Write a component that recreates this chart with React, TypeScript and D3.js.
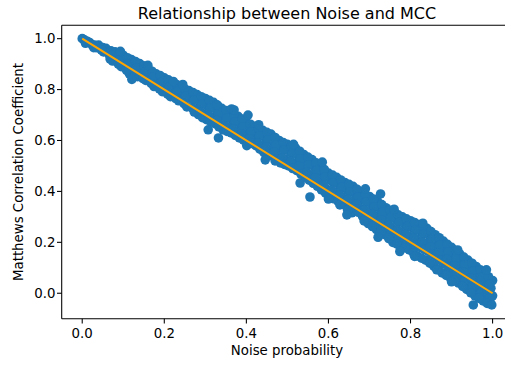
import * as d3 from "d3";
import React from "react";

// chart values
const xTicks = [0.0, 0.2, 0.4, 0.6, 0.8, 1.0];
const yTicks = [0.0, 0.2, 0.4, 0.6, 0.8, 1.0];
const xDomain = [-0.05, 1.05];
const yDomain = [-0.1, 1.0525];

// [noise probability, MCC] - main band of trials
const bandPoints: [number, number][] = [
  [0, 1.0], [0.004, 0.997],
  [0.018, 0.985], [0.024, 0.976], [0.012, 0.99],
  [0.04, 0.975], [0.046, 0.958], [0.034, 0.965],
  [0.058, 0.962], [0.066, 0.936], [0.053, 0.95],
  [0.08, 0.948], [0.086, 0.928], [0.074, 0.912],
  [0.1, 0.935], [0.106, 0.907], [0.095, 0.89],
  [0.12, 0.918], [0.126, 0.888], [0.115, 0.862],
  [0.14, 0.902], [0.146, 0.875], [0.135, 0.851],
  [0.16, 0.884], [0.166, 0.86], [0.155, 0.836],
  [0.18, 0.862], [0.186, 0.836], [0.175, 0.812],
  [0.2, 0.846], [0.206, 0.816], [0.195, 0.792],
  [0.22, 0.83], [0.226, 0.8], [0.215, 0.772],
  [0.24, 0.81], [0.246, 0.782], [0.235, 0.756],
  [0.26, 0.796], [0.266, 0.765], [0.255, 0.732],
  [0.28, 0.78], [0.286, 0.75], [0.275, 0.722], [0.283, 0.702],
  [0.3, 0.765], [0.306, 0.735], [0.295, 0.705], [0.303, 0.682],
  [0.32, 0.75], [0.326, 0.72], [0.315, 0.69], [0.323, 0.666],
  [0.34, 0.726], [0.346, 0.695], [0.335, 0.665], [0.343, 0.642],
  [0.36, 0.71], [0.366, 0.68], [0.355, 0.652], [0.363, 0.63],
  [0.38, 0.695], [0.386, 0.665], [0.375, 0.636], [0.383, 0.61],
  [0.4, 0.672], [0.406, 0.642], [0.395, 0.615], [0.403, 0.595],
  [0.42, 0.655], [0.426, 0.625], [0.415, 0.6], [0.423, 0.58],
  [0.44, 0.64], [0.446, 0.61], [0.435, 0.58], [0.443, 0.552],
  [0.46, 0.625], [0.466, 0.595], [0.455, 0.566], [0.463, 0.54],
  [0.48, 0.6], [0.486, 0.57], [0.475, 0.54], [0.483, 0.512],
  [0.5, 0.585], [0.506, 0.555], [0.495, 0.525], [0.503, 0.5],
  [0.52, 0.57], [0.526, 0.54], [0.515, 0.51], [0.523, 0.482],
  [0.54, 0.545], [0.546, 0.515], [0.535, 0.485], [0.543, 0.456],
  [0.56, 0.525], [0.566, 0.495], [0.555, 0.465], [0.563, 0.432],
  [0.58, 0.5], [0.586, 0.47], [0.575, 0.44], [0.583, 0.406],
  [0.6, 0.472], [0.606, 0.442], [0.595, 0.41], [0.603, 0.38],
  [0.62, 0.455], [0.626, 0.425], [0.615, 0.395], [0.623, 0.362],
  [0.64, 0.435], [0.646, 0.405], [0.635, 0.375], [0.643, 0.342],
  [0.66, 0.42], [0.666, 0.39], [0.655, 0.362], [0.663, 0.335], [0.657, 0.316],
  [0.68, 0.396], [0.686, 0.366], [0.675, 0.335], [0.683, 0.302],
  [0.7, 0.38], [0.706, 0.35], [0.695, 0.32], [0.703, 0.29], [0.697, 0.274],
  [0.72, 0.36], [0.726, 0.33], [0.715, 0.3], [0.723, 0.27], [0.717, 0.25],
  [0.74, 0.336], [0.746, 0.306], [0.735, 0.276], [0.743, 0.246], [0.737, 0.23],
  [0.76, 0.316], [0.766, 0.286], [0.755, 0.256], [0.763, 0.226], [0.757, 0.2],
  [0.78, 0.3], [0.786, 0.27], [0.775, 0.24], [0.783, 0.21], [0.777, 0.186],
  [0.8, 0.285], [0.806, 0.255], [0.795, 0.225], [0.803, 0.195], [0.797, 0.17],
  [0.82, 0.27], [0.826, 0.24], [0.815, 0.21], [0.823, 0.18], [0.817, 0.146],
  [0.84, 0.255], [0.846, 0.225], [0.835, 0.195], [0.843, 0.165], [0.837, 0.13],
  [0.86, 0.23], [0.866, 0.2], [0.855, 0.17], [0.863, 0.14], [0.857, 0.106],
  [0.88, 0.205], [0.886, 0.175], [0.875, 0.145], [0.883, 0.115], [0.877, 0.08],
  [0.9, 0.18], [0.906, 0.15], [0.895, 0.12], [0.903, 0.09], [0.897, 0.06],
  [0.92, 0.155], [0.926, 0.125], [0.915, 0.095], [0.923, 0.065], [0.917, 0.04],
  [0.94, 0.13], [0.946, 0.1], [0.935, 0.07], [0.943, 0.04], [0.937, 0.015],
  [0.96, 0.105], [0.966, 0.075], [0.955, 0.045], [0.963, 0.015], [0.957, -0.01],
  [0.98, 0.08], [0.986, 0.05], [0.975, 0.02], [0.983, -0.005], [0.977, -0.03],
  [1.0, 0.05], [0.996, 0.02], [1.0, -0.01], [0.994, -0.035],
];

// more trials in between the rows above
const bandPointsMid: [number, number][] = [
  [0.01, 0.99], [0.008, 0.982],
  [0.03, 0.975], [0.028, 0.965],
  [0.05, 0.965], [0.052, 0.948], [0.047, 0.955],
  [0.07, 0.952], [0.072, 0.935], [0.068, 0.92],
  [0.09, 0.94], [0.092, 0.918], [0.088, 0.9],
  [0.11, 0.925], [0.112, 0.9], [0.108, 0.876],
  [0.13, 0.91], [0.132, 0.885], [0.128, 0.86],
  [0.15, 0.893], [0.152, 0.868], [0.148, 0.843],
  [0.17, 0.872], [0.172, 0.848], [0.168, 0.824],
  [0.19, 0.855], [0.192, 0.828], [0.188, 0.803],
  [0.21, 0.838], [0.212, 0.81], [0.208, 0.782],
  [0.23, 0.82], [0.232, 0.792], [0.228, 0.765],
  [0.25, 0.803], [0.252, 0.774], [0.248, 0.745],
  [0.27, 0.788], [0.272, 0.758], [0.268, 0.728], [0.273, 0.712],
  [0.29, 0.772], [0.292, 0.742], [0.288, 0.712], [0.293, 0.69],
  [0.31, 0.758], [0.312, 0.728], [0.308, 0.698], [0.313, 0.674],
  [0.33, 0.738], [0.332, 0.708], [0.328, 0.678], [0.333, 0.654],
  [0.35, 0.718], [0.352, 0.688], [0.348, 0.658], [0.353, 0.636],
  [0.37, 0.702], [0.372, 0.672], [0.368, 0.644], [0.373, 0.62],
  [0.39, 0.684], [0.392, 0.654], [0.388, 0.625], [0.393, 0.602],
  [0.41, 0.664], [0.412, 0.634], [0.408, 0.607], [0.413, 0.588],
  [0.43, 0.648], [0.432, 0.618], [0.428, 0.59], [0.433, 0.566],
  [0.45, 0.632], [0.452, 0.602], [0.448, 0.573], [0.453, 0.546],
  [0.47, 0.612], [0.472, 0.582], [0.468, 0.553], [0.473, 0.526],
  [0.49, 0.592], [0.492, 0.562], [0.488, 0.532], [0.493, 0.506],
  [0.51, 0.578], [0.512, 0.548], [0.508, 0.518], [0.513, 0.49],
  [0.53, 0.558], [0.532, 0.528], [0.528, 0.498], [0.533, 0.468],
  [0.55, 0.535], [0.552, 0.505], [0.548, 0.475], [0.553, 0.444],
  [0.57, 0.512], [0.572, 0.482], [0.568, 0.452], [0.573, 0.42],
  [0.59, 0.486], [0.592, 0.456], [0.588, 0.425], [0.593, 0.393],
  [0.61, 0.464], [0.612, 0.434], [0.608, 0.403], [0.613, 0.371],
  [0.63, 0.445], [0.632, 0.415], [0.628, 0.385], [0.633, 0.352],
  [0.65, 0.428], [0.652, 0.398], [0.648, 0.368], [0.653, 0.338], [0.647, 0.326],
  [0.67, 0.408], [0.672, 0.378], [0.668, 0.348], [0.673, 0.318],
  [0.69, 0.388], [0.692, 0.358], [0.688, 0.328], [0.693, 0.296], [0.687, 0.284],
  [0.71, 0.37], [0.712, 0.34], [0.708, 0.31], [0.713, 0.28], [0.707, 0.262],
  [0.73, 0.348], [0.732, 0.318], [0.728, 0.288], [0.733, 0.258], [0.727, 0.24],
  [0.75, 0.326], [0.752, 0.296], [0.748, 0.266], [0.753, 0.236], [0.747, 0.215],
  [0.77, 0.308], [0.772, 0.278], [0.768, 0.248], [0.773, 0.218], [0.767, 0.193],
  [0.79, 0.292], [0.792, 0.262], [0.788, 0.232], [0.793, 0.202], [0.787, 0.178],
  [0.81, 0.278], [0.812, 0.248], [0.808, 0.218], [0.813, 0.188], [0.807, 0.158],
  [0.83, 0.262], [0.832, 0.232], [0.828, 0.202], [0.833, 0.172], [0.827, 0.138],
  [0.85, 0.242], [0.852, 0.212], [0.848, 0.182], [0.853, 0.152], [0.847, 0.118],
  [0.87, 0.218], [0.872, 0.188], [0.868, 0.158], [0.873, 0.128], [0.867, 0.093],
  [0.89, 0.192], [0.892, 0.162], [0.888, 0.132], [0.893, 0.102], [0.887, 0.07],
  [0.91, 0.168], [0.912, 0.138], [0.908, 0.108], [0.913, 0.078], [0.907, 0.05],
  [0.93, 0.142], [0.932, 0.112], [0.928, 0.082], [0.933, 0.052], [0.927, 0.027],
  [0.95, 0.118], [0.952, 0.088], [0.948, 0.058], [0.953, 0.028], [0.947, 0.002],
  [0.97, 0.092], [0.972, 0.062], [0.968, 0.032], [0.973, 0.005], [0.967, -0.02],
  [0.99, 0.065], [0.992, 0.035], [0.988, 0.005], [0.993, -0.02], [0.987, -0.04],
];

// trials that make the ragged edges of the band
const edgePoints: [number, number][] = [
  [0.16, 0.895], [0.245, 0.82], [0.515, 0.585], [0.585, 0.515], [0.69, 0.41],
  [0.83, 0.275], [0.915, 0.17], [0.47, 0.52], [0.6, 0.37], [0.81, 0.145],
  [0.9, 0.045], [0.43, 0.662], [0.76, 0.33],
];

// stray trials off the band
const outlierPoints: [number, number][] = [
  [0.093, 0.95], [0.121, 0.84], [0.222, 0.832], [0.307, 0.642], [0.332, 0.61],
  [0.328, 0.74], [0.364, 0.724], [0.37, 0.72], [0.401, 0.58], [0.404, 0.7],
  [0.446, 0.524], [0.531, 0.433], [0.555, 0.378], [0.628, 0.347], [0.645, 0.308],
  [0.721, 0.22], [0.727, 0.39], [0.774, 0.164], [0.864, 0.092], [0.953, -0.046],
  [0.998, -0.046], [0.985, 0.092],
];

// fitted line end points
const fitNoise = [0, 1];
const fitMcc = [1, 0];

const width = 505;
const height = 365;
const plot = { left: 61.7, right: 513.1, top: 25.3, bottom: 318.7 };
const font = "DejaVu Sans";

const App = () => {
  const x = d3.scaleLinear().domain(xDomain).range([plot.left, plot.right]);
  const y = d3.scaleLinear().domain(yDomain).range([plot.bottom, plot.top]);

  const allPoints = bandPoints.concat(bandPointsMid, edgePoints, outlierPoints);
  const line = d3
    .line<number>()
    .x((d) => x(fitNoise[d]))
    .y((d) => y(fitMcc[d]));

  return (
    <svg
      width={width}
      height={height}
      style={{ position: "absolute", left: 0, top: 0, background: "#fff" }}
      fontFamily={font}
    >
      <rect x={0} y={0} width={width} height={height} fill="#fff" />
      <text x={287} y={18.5} fontSize={16} textAnchor="middle" fill="#000">
        Relationship between Noise and MCC
      </text>

      <g className="scatter">
        {allPoints.map((d, i) => (
          <circle key={i} cx={x(d[0])} cy={y(d[1])} r={4.8} fill="#1f77b4" />
        ))}
      </g>
      <path d={line([0, 1]) ?? ""} stroke="#ffa500" strokeWidth={2} fill="none" />

      {/* spines */}
      <line x1={plot.left} x2={plot.left} y1={plot.top} y2={plot.bottom} stroke="#000" strokeWidth={1.07} />
      <line x1={plot.left} x2={plot.right} y1={plot.bottom} y2={plot.bottom} stroke="#000" strokeWidth={1.07} />
      <line x1={plot.left} x2={plot.right} y1={plot.top} y2={plot.top} stroke="#000" strokeWidth={1.07} />

      <g className="x-axis">
        {xTicks.map((t) => (
          <g key={t} transform={`translate(${x(t)},0)`}>
            <line y1={plot.bottom} y2={plot.bottom + 4.7} stroke="#000" strokeWidth={1.07} />
            <text y={338} fontSize={13.33} textAnchor="middle" fill="#000">
              {t.toFixed(1)}
            </text>
          </g>
        ))}
      </g>
      <g className="y-axis">
        {yTicks.map((t) => (
          <g key={t} transform={`translate(0,${y(t)})`}>
            <line x1={plot.left - 4.7} x2={plot.left} stroke="#000" strokeWidth={1.07} />
            <text x={55.5} dy="0.36em" fontSize={13.33} textAnchor="end" fill="#000">
              {t.toFixed(1)}
            </text>
          </g>
        ))}
      </g>

      <text x={287} y={355} fontSize={13.33} textAnchor="middle" fill="#000">
        Noise probability
      </text>
      <text
        transform={`translate(23,${(plot.top + plot.bottom) / 2}) rotate(-90)`}
        fontSize={13.33}
        textAnchor="middle"
        fill="#000"
      >
        Matthews Correlation Coefficient
      </text>
    </svg>
  );
};

export default App;
